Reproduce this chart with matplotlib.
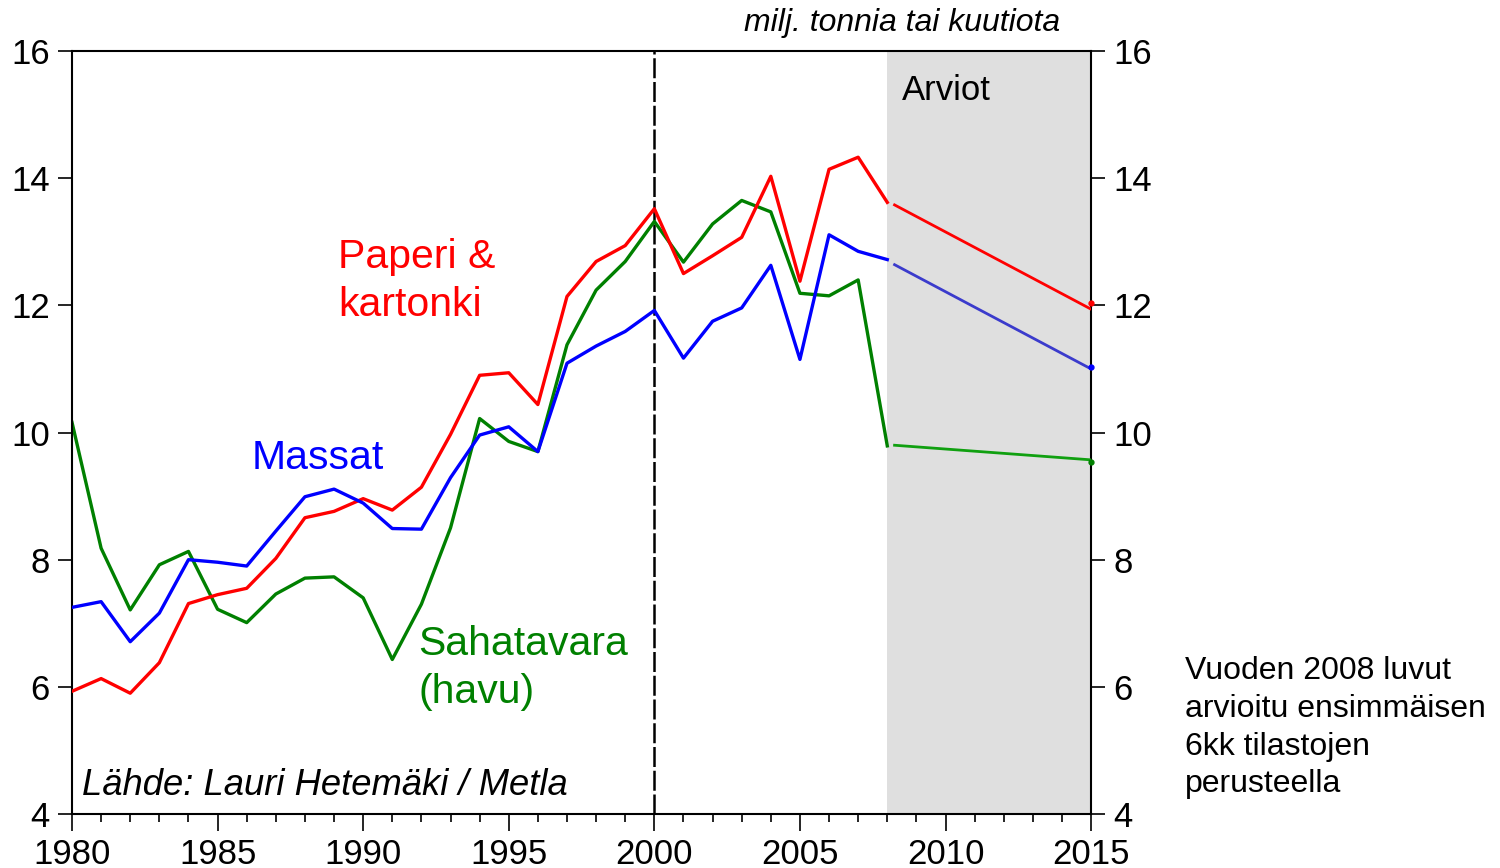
import matplotlib
matplotlib.use("Agg")
import matplotlib.pyplot as plt
from matplotlib.ticker import MultipleLocator

plt.rcParams['font.family'] = ['Liberation Sans', 'DejaVu Sans']

years = list(range(1980, 2009))

paperi = [5.93, 6.13, 5.90, 6.38, 7.31, 7.45, 7.55, 8.02, 8.66, 8.76, 8.96, 8.78,
          9.14, 9.97, 10.90, 10.94, 10.44, 12.14, 12.69, 12.94, 13.52, 12.50,
          12.78, 13.07, 14.03, 12.38, 14.14, 14.33, 13.62]
massat = [7.25, 7.34, 6.71, 7.16, 8.00, 7.96, 7.90, 8.45, 8.99, 9.11, 8.89, 8.49,
          8.48, 9.29, 9.96, 10.09, 9.70, 11.09, 11.36, 11.59, 11.92, 11.17,
          11.75, 11.96, 12.63, 11.15, 13.11, 12.85, 12.72]
sahatavara = [10.16, 8.18, 7.21, 7.92, 8.13, 7.22, 7.01, 7.46, 7.71, 7.73, 7.40,
              6.43, 7.30, 8.50, 10.22, 9.86, 9.70, 11.38, 12.24, 12.69, 13.32,
              12.68, 13.28, 13.65, 13.47, 12.19, 12.15, 12.40, 9.79]

# arviot 2008 -> 2015
fc_years = [2008.25, 2015]
paperi_fc = [13.58, 11.94]
massat_fc = [12.64, 11.00]
sahatavara_fc = [9.80, 9.57]
end_year = 2015
end_vals = [12.03, 11.03, 9.53]

fig = plt.figure(figsize=(15, 8.68), dpi=100)
ax = fig.add_axes([0.048, 0.0622, 0.6794, 0.879])

ax.axvspan(2008, 2015, color="#dfdfdf", lw=0, zorder=0)
ax.axvline(2000, color="black", lw=1.8, linestyle=(0, (8, 1.5)), zorder=1)

lw = 2.4
ax.plot(years, paperi, color="#ff0000", lw=lw, zorder=3)
ax.plot(years, massat, color="#0000ff", lw=lw, zorder=3)
ax.plot(years, sahatavara, color="#008000", lw=lw, zorder=2)

ax.plot(fc_years, paperi_fc, color="#ff0000", lw=2.0, zorder=3)
ax.plot(fc_years, massat_fc, color="#3b3bcc", lw=2.0, zorder=3)
ax.plot(fc_years, sahatavara_fc, color="#10a010", lw=2.0, zorder=3)
for v, c in zip(end_vals, ["#ff0000", "#0000ff", "#008000"]):
    ax.plot(end_year, v, "o", color=c, ms=3.5, zorder=4, clip_on=False)

ax.set_xlim(1980, 2015)
ax.set_ylim(4, 16)
ax.xaxis.set_major_locator(MultipleLocator(5))
ax.xaxis.set_minor_locator(MultipleLocator(1))
ax.yaxis.set_major_locator(MultipleLocator(2))

for s in ax.spines.values():
    s.set_linewidth(1.5)

ax.tick_params(axis="y", which="major", direction="out", length=10, width=1.2,
               labelsize=25, left=True, right=True, labelleft=True,
               labelright=True, pad=6)
ax.tick_params(axis="x", which="major", direction="out", length=12, width=1.2,
               labelsize=25, pad=5)
ax.tick_params(axis="x", which="minor", direction="out", length=6, width=1.2)

ax.text(1989.14, 12.38, "Paperi &\nkartonki", color="#ff0000", fontsize=29.5,
        ha="left", va="center", linespacing=1.33)
ax.text(1986.18, 9.6, "Massat", color="#0000ff", fontsize=29.5,
        ha="left", va="center")
ax.text(1991.89, 6.3, "Sahatavara\n(havu)", color="#008000", fontsize=29.5,
        ha="left", va="center", linespacing=1.35)
ax.text(1980.35, 4.45, "Lähde: Lauri Hetemäki / Metla", fontsize=26.2,
        style="italic", ha="left", va="center")
ax.text(2008.5, 15.38, "Arviot", fontsize=25, ha="left", va="center")

fig.text(1060 / 1500, 1 - 23 / 868, "milj. tonnia tai kuutiota", fontsize=23,
         style="italic", ha="right", va="center")
fig.text(1185 / 1500, 1 - 656 / 868,
         "Vuoden 2008 luvut\narvioitu ensimmäisen\n6kk tilastojen\nperusteella",
         fontsize=23, ha="left", va="top", linespacing=1.34)

fig.savefig("out.png", dpi=100)
